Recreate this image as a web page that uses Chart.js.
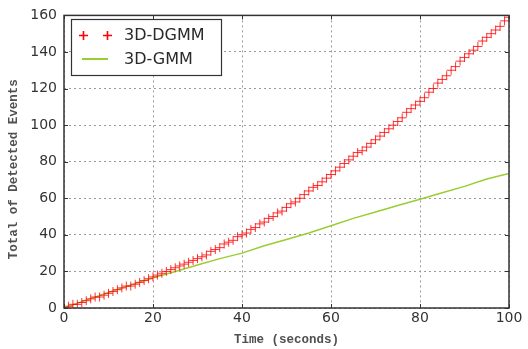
<!DOCTYPE html>
<html>
<head>
<meta charset="utf-8">
<script src="https://cdn.jsdelivr.net/npm/chart.js@4"></script>
<style>
  html, body { margin: 0; padding: 0; background: #fff; }
  #wrap { width: 528px; height: 349px; }
</style>
</head>
<body>
<div id="wrap"><canvas id="eventsChart" width="528" height="349"></canvas></div>
<script>
// values
const seconds = [];
for (let i = 0; i <= 100; i++) seconds.push(i);
const dgmm = [
  0, 1, 2, 2, 3, 4, 5, 6, 6, 7, 8,
  9, 10, 11, 12, 12, 13, 14, 15, 16, 17,
  18, 19, 20, 21, 22, 23, 24, 25, 26, 27,
  28, 29, 31, 32, 33, 35, 36, 37, 39, 40,
  41, 43, 44, 46, 47, 49, 50, 52, 53, 55,
  57, 58, 60, 62, 64, 66, 67, 69, 71, 73,
  75, 77, 79, 81, 83, 85, 86, 88, 90, 92,
  94, 96, 98, 100, 102, 104, 107, 109, 111, 113,
  115, 118, 120, 123, 125, 127, 130, 132, 135, 137,
  139, 141, 143, 146, 148, 150, 152, 154, 157, 159
];
const gmmTimes = [0, 5, 10, 15, 20, 25, 30, 35, 40, 45, 50, 55, 60, 65, 70, 75, 80, 85, 90, 95, 100];
const gmm = [0, 4.3, 8.5, 12.5, 16.5, 20, 23.5, 27, 30, 34, 37.5, 41, 45, 49, 52.5, 56, 59.5, 63, 66.5, 70.5, 73.5];
const xTicks = [0, 20, 40, 60, 80, 100];
const yTicks = [0, 20, 40, 60, 80, 100, 120, 140, 160];
const seriesNames = ['3D-DGMM', '3D-GMM'];

const RED = 'rgba(255,0,0,0.8)';
const GREEN = '#9acd32';
const FRAME = '#333333';
const labelFont = 'Liberation Mono';

// frame, inward ticks and legend box like the original figure
const frameAndLegend = {
  id: 'frameAndLegend',
  afterDraw(chart) {
    const c = chart.ctx;
    const a = chart.chartArea;
    const xs = chart.scales.x, ys = chart.scales.y;
    c.save();
    c.setLineDash([]);
    c.strokeStyle = FRAME;
    c.lineWidth = 1;
    xTicks.forEach(t => {
      const px = Math.round(xs.getPixelForValue(t)) + 0.5;
      c.beginPath();
      c.moveTo(px, a.bottom); c.lineTo(px, a.bottom - 4);
      c.moveTo(px, a.top); c.lineTo(px, a.top + 4);
      c.stroke();
    });
    yTicks.forEach(t => {
      const py = Math.round(ys.getPixelForValue(t)) + 0.5;
      c.beginPath();
      c.moveTo(a.left, py); c.lineTo(a.left + 4, py);
      c.moveTo(a.right, py); c.lineTo(a.right - 4, py);
      c.stroke();
    });
    c.lineWidth = 1.5;
    c.strokeRect(a.left, a.top, a.right - a.left, a.bottom - a.top);

    // legend
    const lx = 71, ly = 19, lw = 150, lh = 56;
    c.fillStyle = '#fff';
    c.fillRect(lx, ly, lw, lh);
    c.strokeStyle = FRAME;
    c.lineWidth = 1.2;
    c.strokeRect(lx + 0.5, ly + 0.5, lw, lh);
    // row 1: red crosses
    c.strokeStyle = '#ff0000';
    c.lineWidth = 1.6;
    [83, 107].forEach(mx => {
      c.beginPath();
      c.moveTo(mx - 4, 35.5); c.lineTo(mx + 5, 35.5);
      c.moveTo(mx + 0.5, 31); c.lineTo(mx + 0.5, 40);
      c.stroke();
    });
    // row 2: green line
    c.fillStyle = GREEN;
    c.fillRect(82, 58, 26, 2);
    c.font = '16px "DejaVu Sans"';
    c.textBaseline = 'middle';
    c.fillStyle = '#2a2a2a';
    c.fillText(seriesNames[0], 124, 36);
    c.fillText(seriesNames[1], 124, 60);
    c.restore();
  }
};

document.addEventListener('DOMContentLoaded', function () {
  const ctx = document.getElementById('eventsChart');
  new Chart(ctx, {
    type: 'scatter',
    data: {
      datasets: [{
        label: seriesNames[0],
        data: seconds.map((t, i) => ({ x: t, y: dgmm[i] })),
        showLine: false,
        pointStyle: 'cross',
        pointRadius: 4.5,
        pointBorderColor: RED,
        pointBorderWidth: 1,
        pointBackgroundColor: RED,
        order: 1
      }, {
        label: seriesNames[1],
        data: gmmTimes.map((t, i) => ({ x: t, y: gmm[i] })),
        showLine: true,
        borderColor: GREEN,
        borderWidth: 1.5,
        pointRadius: 0,
        order: 2
      }]
    },
    options: {
      responsive: false,
      animation: false,
      devicePixelRatio: 1,
      layout: { padding: { top: 12, right: 19, left: 0, bottom: 0 } },
      plugins: {
        legend: { display: false },
        tooltip: { enabled: false }
      },
      scales: {
        x: {
          type: 'linear',
          min: 0,
          max: 100,
          afterFit: s => { s.height = 41; },
          afterBuildTicks: s => { s.ticks = xTicks.map(v => ({ value: v })); },
          ticks: {
            color: '#333',
            font: { family: 'DejaVu Sans', size: 14 },
            padding: 2,
            maxRotation: 0
          },
          grid: { color: '#9a9a9a', lineWidth: 1, drawTicks: false },
          border: { display: false, dash: [2, 3] },
          title: {
            display: true,
            text: 'Time (seconds)',
            color: '#505050',
            font: { family: labelFont, size: 12.5, weight: 'bold' },
            padding: { top: 0, bottom: 2 }
          }
        },
        y: {
          type: 'linear',
          min: 0,
          max: 160,
          afterFit: s => { s.width = 64; },
          afterBuildTicks: s => { s.ticks = yTicks.map(v => ({ value: v })); },
          ticks: {
            color: '#333',
            font: { family: 'DejaVu Sans', size: 14 },
            padding: 7
          },
          grid: { color: '#9a9a9a', lineWidth: 1, drawTicks: false },
          border: { display: false, dash: [2, 3] },
          title: {
            display: true,
            text: 'Total of Detected Events  ',
            color: '#505050',
            font: { family: labelFont, size: 12.5, weight: 'bold' },
            padding: { top: 6, bottom: 0 }
          }
        }
      }
    },
    plugins: [frameAndLegend]
  });
});
</script>
</body>
</html>
